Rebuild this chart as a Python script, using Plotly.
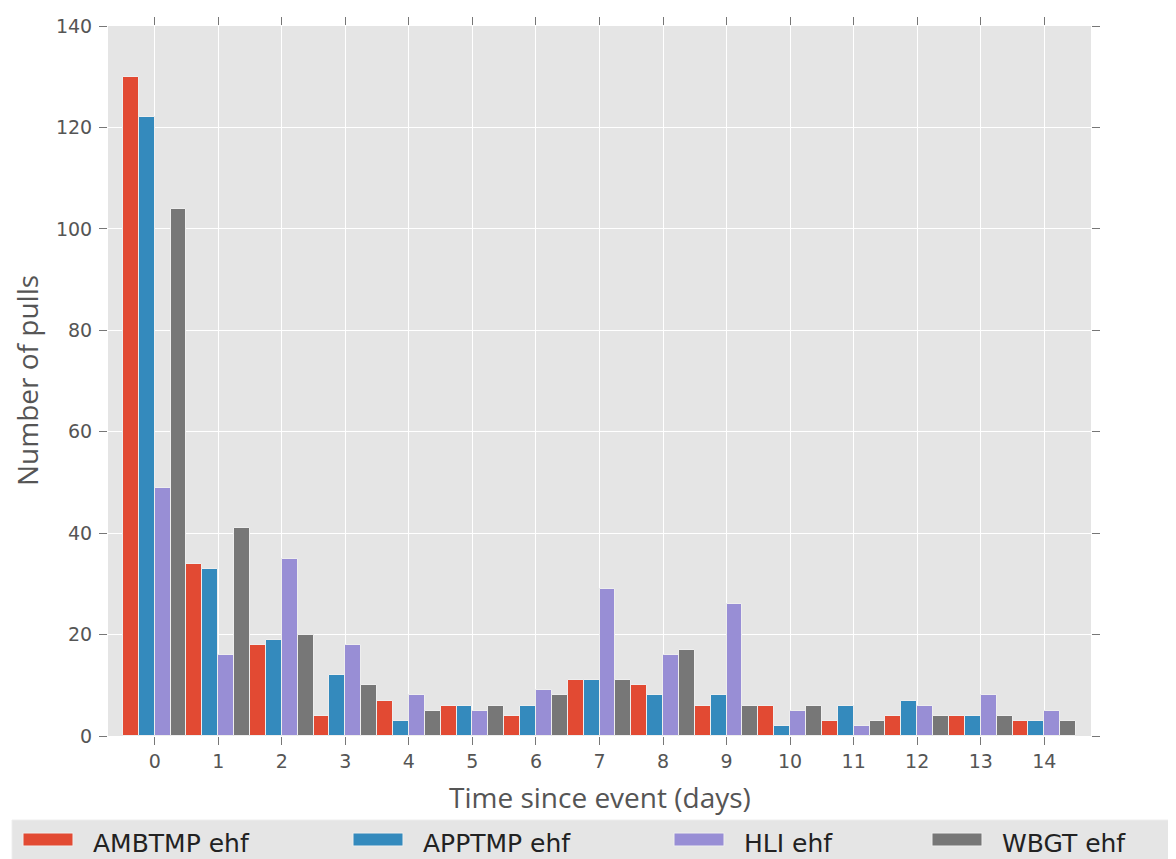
import plotly.graph_objects as go

# ---- data ----
days = list(range(15))
ambtmp = [130, 34, 18, 4, 7, 6, 4, 11, 10, 6, 6, 3, 4, 4, 3]
apptmp = [122, 33, 19, 12, 3, 6, 6, 11, 8, 8, 2, 6, 7, 4, 3]
hli = [49, 16, 35, 18, 8, 5, 9, 29, 16, 26, 5, 2, 6, 8, 5]
wbgt = [104, 41, 20, 10, 5, 6, 8, 11, 17, 6, 6, 3, 4, 4, 3]
series_names = ["AMBTMP ehf", "APPTMP ehf", "HLI ehf", "WBGT ehf"]
series_values = [ambtmp, apptmp, hli, wbgt]
colors = ["#E24A33", "#348ABD", "#988ED5", "#777777"]
y_ticks = [0, 20, 40, 60, 80, 100, 120, 140]
x_title = "Time since event (days)"
y_title = "Number of pulls"

OFF = 8  # page body margin
W, H = 1176 - OFF, 859 - OFF
L, R, T, B = 108 - OFF, 85, 26 - OFF, 123
PW = W - L - R
PH = H - T - B


def px_x(px):
    return (px - OFF - L) / PW


def px_y(py):
    return (H - B - (py - OFF)) / PH


fig = go.Figure()
for name, vals, col in zip(series_names, series_values, colors):
    fig.add_trace(go.Bar(
        x=days, y=vals, name=name, showlegend=False,
        marker=dict(color=col, line=dict(color="#EEEEEE", width=1)),
    ))

# manual legend (matplotlib-like wide swatches)
shapes = [dict(type="rect", xref="paper", yref="paper",
               x0=px_x(12), x1=px_x(1300), y0=px_y(820), y1=px_y(900),
               fillcolor="#E5E5E5", line=dict(color="#EEEEEE", width=1), layer="below")]
annotations = []
sw_left = [23, 353, 674, 932]
for i, (name, col) in enumerate(zip(series_names, colors)):
    x0 = sw_left[i]
    shapes.append(dict(type="rect", xref="paper", yref="paper",
                       x0=px_x(x0), x1=px_x(x0 + 50), y0=px_y(846), y1=px_y(833),
                       fillcolor=col, line=dict(color="#EEEEEE", width=1)))
    annotations.append(dict(xref="paper", yref="paper", x=px_x(x0 + 68), y=px_y(843),
                            xanchor="left", yanchor="middle", showarrow=False, text=name,
                            font=dict(family="DejaVu Sans", size=25, color="#222222")))

title_font = dict(family="Open Sans", size=28, color="#555555")
annotations.append(dict(xref="paper", yref="paper", x=0.5, y=px_y(797),
                        xanchor="center", yanchor="middle", showarrow=False,
                        text=x_title, font=title_font))
annotations.append(dict(xref="paper", yref="paper", x=px_x(27), y=0.5, textangle=-90,
                        xanchor="center", yanchor="middle", showarrow=False,
                        borderpad=0, text=y_title, font=title_font))

axis_common = dict(
    showgrid=True, gridcolor="white", gridwidth=1.3, automargin=False,
    zeroline=False, showline=True, linecolor="white", linewidth=1,
    mirror="ticks", ticks="outside", ticklen=8, tickwidth=1, tickcolor="#777777",
    tickfont=dict(family="DejaVu Sans", size=19, color="#555555"),
)

fig.update_layout(
    width=W, height=H,
    margin=dict(l=L, r=R, t=T, b=B, pad=0, autoexpand=False),
    paper_bgcolor="white", plot_bgcolor="#E5E5E5",
    barmode="group", bargap=0, bargroupgap=0,
    shapes=shapes, annotations=annotations,
    xaxis=dict(axis_common, range=[-0.735, 14.735], tickmode="array",
               tickvals=days, ticktext=[str(d) for d in days]),
    yaxis=dict(axis_common, range=[0, 140], tickmode="array", tickvals=y_ticks,
               ticktext=[str(v) for v in y_ticks], ticklabelstandoff=3),
)

fig.write_html("out.html")
